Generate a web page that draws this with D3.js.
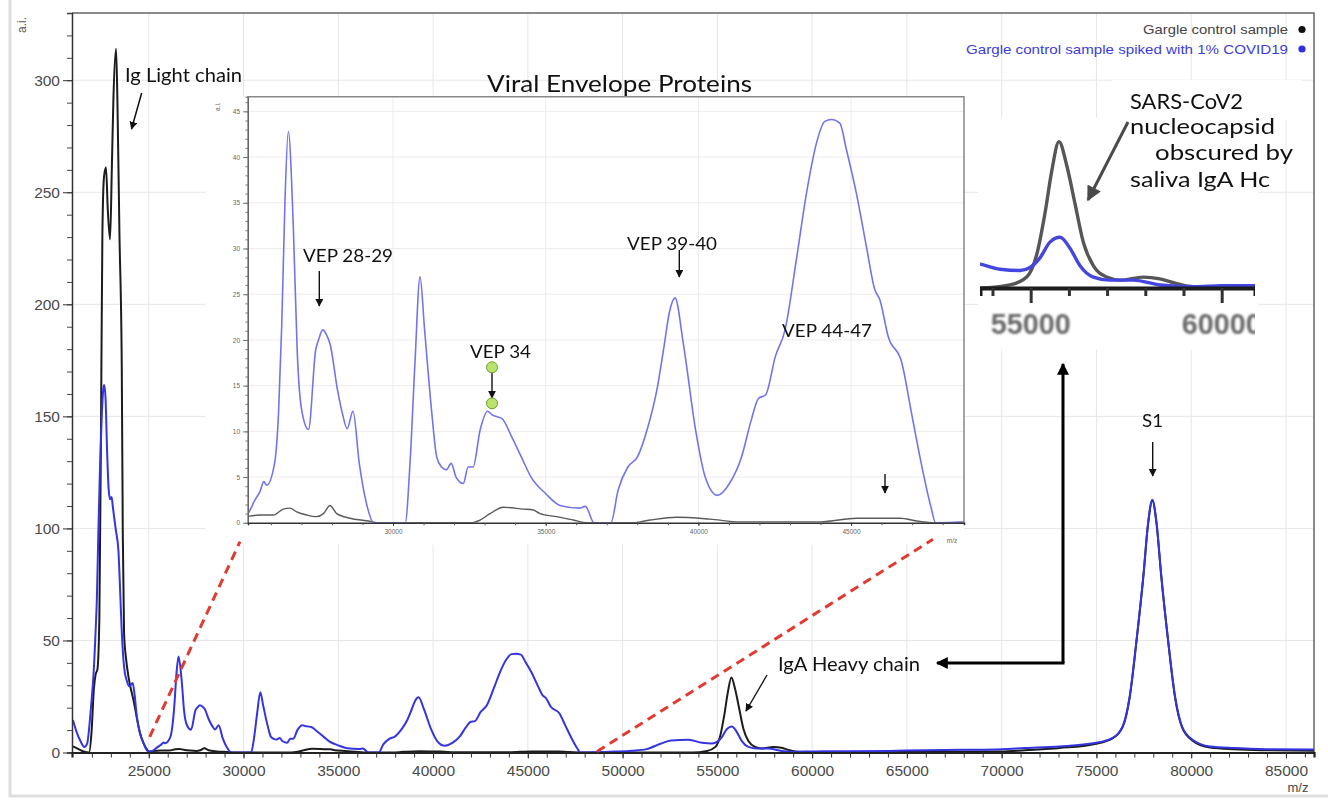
<!DOCTYPE html>
<html>
<head>
<meta charset="utf-8">
<script src="https://cdn.jsdelivr.net/npm/d3@7/dist/d3.min.js"></script>
<style>
  body { margin: 0; background: #fff; }
  svg { display: block; }
</style>
</head>
<body>
<svg id="chart" width="1328" height="805"></svg>
<script>
// ---- data (m/z, intensity a.i.) ----
const spikedMz = [21000, 21200, 21400, 21600, 21750, 21900, 22000, 22080, 22200, 22260, 22340, 22430, 22520, 22600, 22650, 22720, 22800, 22880, 22960, 23040, 23100, 23250, 23400, 23500, 23580, 23700, 23840, 23980, 24150, 24250, 24370, 24550, 24720, 24900, 25070,
  25250, 25480, 25640, 25770, 25860, 26120, 26250, 26354, 26462, 26570, 26734, 26865, 27000, 27232, 27467, 27560, 27700, 27830, 27942, 28182, 28339, 28499, 28689, 28895, 29131, 29370,
  30399, 30556, 30717, 30884, 31034, 31270, 31431, 31590, 31745, 31906, 32063, 32302, 32460, 32620, 32856, 33095, 33250, 33409, 33570, 33887, 34202, 34520, 34995, 35470, 36105, 36300, 36583,
  37134, 37373, 37690, 38005, 38323, 38640, 38876, 39050, 39236, 39508, 39907, 40225, 40621, 41018, 41414, 41729, 41968, 42204, 42522, 42839, 43211, 43539, 43866, 44141, 44358, 44633, 44849, 45177, 45504, 45779, 45943, 46215, 46663, 46981, 47299, 47613, 47774,
  49600, 50500, 51262, 52000, 52555, 53484, 54196, 54720, 54982, 55243, 55505, 55767, 56029, 56291, 56639, 57076, 57686, 58385, 59258, 60000, 62000, 64000, 66000, 68000, 70000,
  71222, 73060, 74907, 75830, 76385, 76754, 77118, 77488, 77720, 77950, 78180, 78411, 78780, 79150, 79519, 80073, 80996, 82300, 84000, 86500];
const spikedAi = [14.5, 9, 5, 2.5, 4, 15, 25, 34, 55, 68, 98, 128, 150, 162, 164, 158, 135, 118, 113, 114, 110, 100, 90, 70, 53, 38, 32, 29.5, 31, 26, 16, 8, 4.3, 1, 0.3,
  1.0, 2.5, 3.4, 4.5, 4.1, 6.5, 12, 21.5, 35.3, 42.8, 32.4, 18.5, 12.5, 10.2, 18.9, 20, 21.1, 20.5, 19.5, 14.5, 12, 10.3, 12.2, 6.5, 2.1, 0,
  0, 6.5, 17.4, 26.9, 21.1, 12, 7.2, 6.1, 5.8, 6.5, 5, 4.3, 6.1, 6.1, 10.2, 12.2, 11.8, 11.6, 11.4, 9.4, 7.2, 5.0, 3.2, 1.9, 1.6, 1.8, 0,
  0, 3.6, 6.1, 7.2, 10.2, 14.5, 19.3, 23, 24.6, 19.6, 10.2, 5.0, 3.0, 4.3, 7.2, 11.2, 13.6, 14, 18.2, 21.1, 28.8, 36, 41.5, 43.9, 44.1, 43.7, 40.8, 36, 30.2, 25.5, 24.4, 20.4, 17.5, 12, 6.5, 1.8, 0,
  0.4, 0.8, 1.5, 3.9, 5.4, 5.7, 4.3, 4.0, 4.7, 6.9, 10.5, 11.6, 9.1, 5.1, 2.5, 1.8, 1.8, 0.7, 0.3, 0.5, 0.6, 0.7, 1.0, 1.2, 1.5,
  2, 2.7, 4.2, 6.4, 11.6, 25, 50.3, 80, 102, 112.8, 102, 80, 50.3, 25, 11.6, 5.7, 2.7, 2, 1.5, 1.3];

const controlMz = [21000, 21300, 21600, 21850, 21980, 22100, 22200, 22290, 22394, 22484, 22554, 22640, 22745, 22834, 22958, 23050, 23133, 23275, 23346, 23452, 23576, 23629, 23698, 23800, 23927, 24190, 24541, 24894, 25000,
  25250, 25643, 26079, 26406, 26626, 26845, 27173, 27500, 27720, 27936, 28155, 28591, 29138, 29575, 32521, 32849, 33177, 33612, 34267, 34595, 34814, 35361, 35905, 36340,
  37840, 38417, 39292, 40382, 41365, 44000, 45188, 46605, 47150, 47800, 53673, 54458, 54895, 55157, 55374, 55550, 55740, 55942, 56160, 56377, 56639, 56990, 57338, 57948, 58385, 58822, 59258,
  62000, 66000, 70000, 71222, 73060, 74907, 75830, 76385, 76754, 77118, 77488, 77720, 77950, 78180, 78411, 78780, 79150, 79519, 80073, 80996, 82300, 84000, 86500];
const controlAi = [2.7, 1.5, 0.3, 0, 9, 28, 35, 37, 60, 150, 232, 257, 261, 243, 229, 260, 291, 314, 291, 232, 172, 98, 53, 42, 34, 23.5, 8.7, 1.5, 0.5,
  0.7, 0.85, 0.85, 1.5, 1.6, 1.2, 0.85, 0.67, 1.0, 1.9, 1.0, 0.5, 0.23, 0, 0, 0.3, 1.0, 1.7, 1.5, 1.4, 1.0, 0.67, 0.3, 0,
  0, 0.3, 0.6, 0.4, 0.1, 0.1, 0.5, 0.5, 0.2, 0, 0, 0.7, 2.5, 7.6, 17.1, 26.7, 33.5, 28.1, 19.3, 10.5, 5.1, 2.5, 1.8, 2.5, 2.1, 1.0, 0.3,
  0.2, 0.3, 0.4, 1.0, 2.0, 3.8, 6.2, 11.4, 24.5, 50, 79.5, 101.5, 112.3, 101.5, 79.5, 50, 24.5, 11.2, 5.3, 2.2, 1.4, 1.0, 0.8];

const mainXTicks = [25000, 30000, 35000, 40000, 45000, 50000, 55000, 60000, 65000, 70000, 75000, 80000, 85000];
const mainYTicks = [0, 50, 100, 150, 200, 250, 300];
const insetXTicks = [30000, 35000, 40000, 45000];
const insetYTicks = [0, 5, 10, 15, 20, 25, 30, 35, 40, 45];
const zoomXTicks = [55000, 60000];
const legendLabels = ["Gargle control sample", "Gargle control sample spiked with 1% COVID19"];

const spiked = d3.zip(spikedMz, spikedAi);
const control = d3.zip(controlMz, controlAi);

const svg = d3.select("#chart");
const BLUE = "#3434e0";
const DARK = "#1c1c1c";

// outer figure border
svg.append("path").attr("d", "M10,-2 V796 H1330").attr("fill", "none").attr("stroke", "#dedede").attr("stroke-width", 3);

// ---- main plot ----
const x = d3.scaleLinear().domain([20950, 86480]).range([72, 1314]);
const y = d3.scaleLinear().domain([0, 330]).range([752.5, 13]);

const defs = svg.append("defs");
defs.append("clipPath").attr("id", "mainClip").append("rect")
  .attr("x", 72).attr("y", 13).attr("width", 1242).attr("height", 740);

// arrow markers
function marker(id, color, len, wid) {
  defs.append("marker").attr("id", id).attr("markerUnits", "userSpaceOnUse")
    .attr("viewBox", "0 0 10 10").attr("refX", 9).attr("refY", 5)
    .attr("markerWidth", len).attr("markerHeight", wid).attr("orient", "auto")
    .append("path").attr("d", "M0,0 L10,5 L0,10 z").attr("fill", color);
}
marker("arrSmall", "#111", 8, 8);
marker("arrBig", "#000", 13, 12);
marker("arrGray", "#4a4a4a", 16, 15);

const grid = svg.append("g").attr("stroke", "#e6e6e6").attr("stroke-width", 1);
mainXTicks.forEach(t => grid.append("line").attr("x1", x(t)).attr("x2", x(t)).attr("y1", y(330)).attr("y2", y(0)));
mainYTicks.filter(t => t > 0).forEach(t => grid.append("line").attr("x1", x(20950)).attr("x2", x(86480)).attr("y1", y(t)).attr("y2", y(t)));

// frame top/right
svg.append("path").attr("d", `M${x(20950)},${y(330)} H${x(86480)} V${y(0)}`)
  .attr("fill", "none").attr("stroke", "#666").attr("stroke-width", 1.5);

const line = d3.line().x(d => x(d[0])).y(d => y(d[1])).curve(d3.curveMonotoneX);
const plot = svg.append("g").attr("clip-path", "url(#mainClip)");
plot.append("path").datum(control).attr("d", line).attr("fill", "none").attr("stroke", DARK).attr("stroke-width", 2);
plot.append("path").datum(spiked).attr("d", line).attr("fill", "none").attr("stroke", BLUE).attr("stroke-width", 2);

// axes
function styleAxis(g, size, color) {
  g.selectAll("text").attr("font-family", "Liberation Sans, Arial, sans-serif").attr("font-size", size).attr("fill", color);
  g.selectAll("line").attr("stroke", "#333");
}
const yMinor = svg.append("g").attr("transform", `translate(${x(20950)},0)`)
  .call(d3.axisLeft(y).tickValues(d3.range(0, 331, 10)).tickSize(5).tickFormat(""));
yMinor.select(".domain").attr("stroke", "#333").attr("stroke-width", 1.5);
yMinor.selectAll("line").attr("stroke", "#444");
const yMajor = svg.append("g").attr("transform", `translate(${x(20950)},0)`)
  .call(d3.axisLeft(y).tickValues(mainYTicks).tickSize(9).tickPadding(3));
yMajor.select(".domain").remove();
styleAxis(yMajor, 15.5, "#4a4a4a");

const xMinor = svg.append("g").attr("transform", `translate(0,${y(0)})`)
  .call(d3.axisBottom(x).tickValues(d3.range(22000, 86001, 1000)).tickSize(5).tickFormat(""));
xMinor.select(".domain").attr("stroke", "#222").attr("stroke-width", 2.2);
xMinor.selectAll("line").attr("stroke", "#333");
const xMajor = svg.append("g").attr("transform", `translate(0,${y(0)})`)
  .call(d3.axisBottom(x).tickValues(mainXTicks).tickSize(6).tickPadding(6).tickFormat(d3.format("d")));
xMajor.select(".domain").remove();
styleAxis(xMajor, 15.5, "#4a4a4a");

svg.append("text").attr("x", 1298).attr("y", 792).attr("text-anchor", "middle")
  .attr("font-family", "Liberation Sans, Arial, sans-serif").attr("font-size", 13).attr("fill", "#444").text("m/z");
svg.append("text").attr("transform", "translate(26,33) rotate(-90)")
  .attr("font-family", "Liberation Sans, Arial, sans-serif").attr("font-size", 12).attr("fill", "#555").text("a.i.");

// legend
legendLabels.forEach((lab, i) => {
  const col = i === 0 ? "#444" : "#3c3cdc";
  svg.append("text").attr("x", 1288).attr("y", 34 + i * 19.5).attr("text-anchor", "end")
    .attr("font-family", "Liberation Sans, Arial, sans-serif").attr("font-size", 13).attr("fill", col)
    .attr("textLength", i === 0 ? 145 : 322).attr("lengthAdjust", "spacingAndGlyphs").text(lab);
  svg.append("circle").attr("cx", 1302).attr("cy", 29.5 + i * 19.5).attr("r", 3.6).attr("fill", i === 0 ? "#111" : "#2f2fe0");
});

// ---- inset: viral envelope proteins ----
const ix = d3.scaleLinear().domain([25250, 48700]).range([248, 964]);
const iy = d3.scaleLinear().domain([0, 46.6]).range([522.8, 96.7]);
defs.append("clipPath").attr("id", "insetClip").append("rect")
  .attr("x", 248).attr("y", 96.7).attr("width", 716).attr("height", 426.1);

const inset = svg.append("g");
inset.append("rect").attr("x", 206).attr("y", 96.7).attr("width", 758).attr("height", 448).attr("fill", "#fff");
const igrid = inset.append("g").attr("stroke", "#ececec").attr("stroke-width", 1);
insetXTicks.forEach(t => igrid.append("line").attr("x1", ix(t)).attr("x2", ix(t)).attr("y1", iy(46.6)).attr("y2", iy(0)));
insetYTicks.filter(t => t > 0).forEach(t => igrid.append("line").attr("x1", 248).attr("x2", 964).attr("y1", iy(t)).attr("y2", iy(t)));
inset.append("path").attr("d", `M248,${iy(0)} V96.7 H964 V${iy(0)}`).attr("fill", "none").attr("stroke", "#888").attr("stroke-width", 1.5);

const iline = d3.line().x(d => ix(d[0])).y(d => iy(d[1])).curve(d3.curveMonotoneX);
const iplot = inset.append("g").attr("clip-path", "url(#insetClip)");
iplot.append("path").datum(control).attr("d", iline).attr("fill", "none").attr("stroke", "#5a5a5a").attr("stroke-width", 1.4);
iplot.append("path").datum(spiked).attr("d", iline).attr("fill", "none").attr("stroke", "#7474ea").attr("stroke-width", 1.6);

const iyMinor = inset.append("g").attr("transform", "translate(248,0)")
  .call(d3.axisLeft(iy).tickValues(d3.range(0, 47, 1)).tickSize(2.5).tickFormat(""));
iyMinor.select(".domain").attr("stroke", "#666");
iyMinor.selectAll("line").attr("stroke", "#777");
const iyMajor = inset.append("g").attr("transform", "translate(248,0)")
  .call(d3.axisLeft(iy).tickValues(insetYTicks).tickSize(5).tickPadding(3));
iyMajor.select(".domain").remove();
styleAxis(iyMajor, 6.5, "#666");
iyMajor.selectAll("line").attr("stroke", "#777");

const ixMinor = inset.append("g").attr("transform", `translate(0,${iy(0)})`)
  .call(d3.axisBottom(ix).tickValues(d3.range(26000, 48701, 1000)).tickSize(2.5).tickFormat(""));
ixMinor.select(".domain").attr("stroke", "#333").attr("stroke-width", 1.5);
ixMinor.selectAll("line").attr("stroke", "#555");
const ixMajor = inset.append("g").attr("transform", `translate(0,${iy(0)})`)
  .call(d3.axisBottom(ix).tickValues(insetXTicks).tickSize(3).tickPadding(4).tickFormat(d3.format("d")));
ixMajor.select(".domain").remove();
styleAxis(ixMajor, 6.5, "#666");
inset.append("text").attr("x", 952).attr("y", 543).attr("text-anchor", "middle")
  .attr("font-family", "Liberation Sans, Arial, sans-serif").attr("font-size", 6.5).attr("fill", "#666").text("m/z");
inset.append("text").attr("transform", "translate(220,111) rotate(-90)")
  .attr("font-family", "Liberation Sans, Arial, sans-serif").attr("font-size", 6.5).attr("fill", "#666").text("a.i.");

// ---- magnified IgA heavy chain view ----
const zx = d3.scaleLinear().domain([53673, 60872]).range([980, 1255]);
const zy = d3.scaleLinear().domain([0, 40]).range([288, 113.2]);
defs.append("clipPath").attr("id", "zoomClip").append("rect")
  .attr("x", 980).attr("y", 110).attr("width", 275).attr("height", 240);
defs.append("filter").attr("id", "soft").append("feGaussianBlur").attr("stdDeviation", 0.7);
defs.append("filter").attr("id", "blurry").append("feGaussianBlur").attr("stdDeviation", 1.3);

svg.append("rect").attr("x", 1112).attr("y", 80).attr("width", 190).attr("height", 40).attr("fill", "#fff");
const zoomG = svg.append("g");
zoomG.append("rect").attr("x", 978).attr("y", 118).attr("width", 280).attr("height", 232).attr("fill", "#fff");
const zline = d3.line().x(d => zx(d[0])).y(d => zy(d[1])).curve(d3.curveMonotoneX);
const zplot = zoomG.append("g").attr("clip-path", "url(#zoomClip)").attr("filter", "url(#soft)");
zplot.append("path").datum(control).attr("d", zline).attr("fill", "none").attr("stroke", "#575757").attr("stroke-width", 3.4);
zplot.append("path").datum(spiked).attr("d", zline).attr("fill", "none").attr("stroke", "#4545e2").attr("stroke-width", 3.4);
const zxAxis = zplot.append("g").attr("transform", `translate(0,${zy(0)})`)
  .call(d3.axisBottom(zx).tickValues(d3.range(54000, 60001, 1000)).tickSize(8).tickFormat(""));
zxAxis.select(".domain").attr("stroke", "#1a1a1a").attr("stroke-width", 4);
zxAxis.selectAll("line").attr("stroke", "#333").attr("stroke-width", 3)
  .attr("y2", d => zoomXTicks.includes(d) ? 15 : 8);
zoomG.append("g").attr("clip-path", "url(#zoomClip)").attr("filter", "url(#blurry)")
  .selectAll("text").data(zoomXTicks).join("text")
  .attr("x", d => zx(d)).attr("y", 334).attr("text-anchor", "middle")
  .attr("font-family", "Liberation Sans, Arial, sans-serif").attr("font-weight", "bold")
  .attr("font-size", 29).attr("fill", "#6a6a6a").attr("textLength", 80).attr("lengthAdjust", "spacingAndGlyphs")
  .text(d => d);

// ---- annotations ----
const ann = svg.append("g").attr("font-family", "Lato, 'Open Sans', sans-serif").attr("fill", "#111");
function label(txt, x0, base, size, width) {
  ann.append("text").attr("x", x0).attr("y", base).attr("font-size", size)
    .attr("textLength", width).attr("lengthAdjust", "spacingAndGlyphs").text(txt);
}
label("Ig Light chain", 125, 82, 20, 117);
label("Viral Envelope Proteins", 487, 92, 23, 265);
label("VEP 28-29", 303, 262, 18, 90);
label("VEP 34", 470, 358, 18, 61);
label("VEP 39-40", 627, 250, 18, 90);
label("VEP 44-47", 782, 337, 18, 90);
label("IgA Heavy chain", 778, 671, 19, 142);
label("S1", 1142, 427, 18, 21);
label("SARS-CoV2", 1130, 109, 22, 113);
label("nucleocapsid", 1130, 134, 22, 145);
label("obscured by", 1155, 160, 22, 138);
label("saliva IgA Hc", 1130, 187, 22, 140);

function arrow(x1, y1, x2, y2, w, m, color) {
  svg.append("line").attr("x1", x1).attr("y1", y1).attr("x2", x2).attr("y2", y2)
    .attr("stroke", color || "#111").attr("stroke-width", w).attr("marker-end", `url(#${m})`);
}
arrow(141.7, 93, 131.5, 129, 1.5, "arrSmall");
arrow(319.3, 271, 319.3, 306, 1.4, "arrSmall");
arrow(679.3, 250, 679.3, 277, 1.4, "arrSmall");
arrow(885, 474, 885, 493, 1.4, "arrSmall");
arrow(767, 675, 746, 711, 1.4, "arrSmall");
arrow(1152.7, 442, 1152.7, 476, 1.4, "arrSmall");
arrow(1128, 122, 1088, 200, 3, "arrGray", "#4a4a4a");
svg.append("path").attr("d", "M1063,663 V364").attr("stroke", "#000").attr("stroke-width", 3).attr("marker-end", "url(#arrBig)");
svg.append("line").attr("x1", 1064.5).attr("y1", 663).attr("x2", 937).attr("y2", 663)
  .attr("stroke", "#000").attr("stroke-width", 3).attr("marker-end", "url(#arrBig)");

// VEP 34 markers
arrow(492, 373, 492, 398, 1.4, "arrSmall");
[367.3, 403.3].forEach(cy => svg.append("circle").attr("cx", 492).attr("cy", cy).attr("r", 5.5)
  .attr("fill", "#b8e36c").attr("stroke", "#6f9d2f").attr("stroke-width", 1));

// red dashed zoom guides
const red = svg.append("g").attr("stroke", "#e03a32").attr("stroke-width", 3).attr("stroke-dasharray", "9,6");
red.append("line").attr("x1", x(25050)).attr("y1", y(7)).attr("x2", 240).attr("y2", 541.7);
red.append("line").attr("x1", x(48650)).attr("y1", y(0.4)).attr("x2", 933).attr("y2", 539.3);
</script>
</body>
</html>
